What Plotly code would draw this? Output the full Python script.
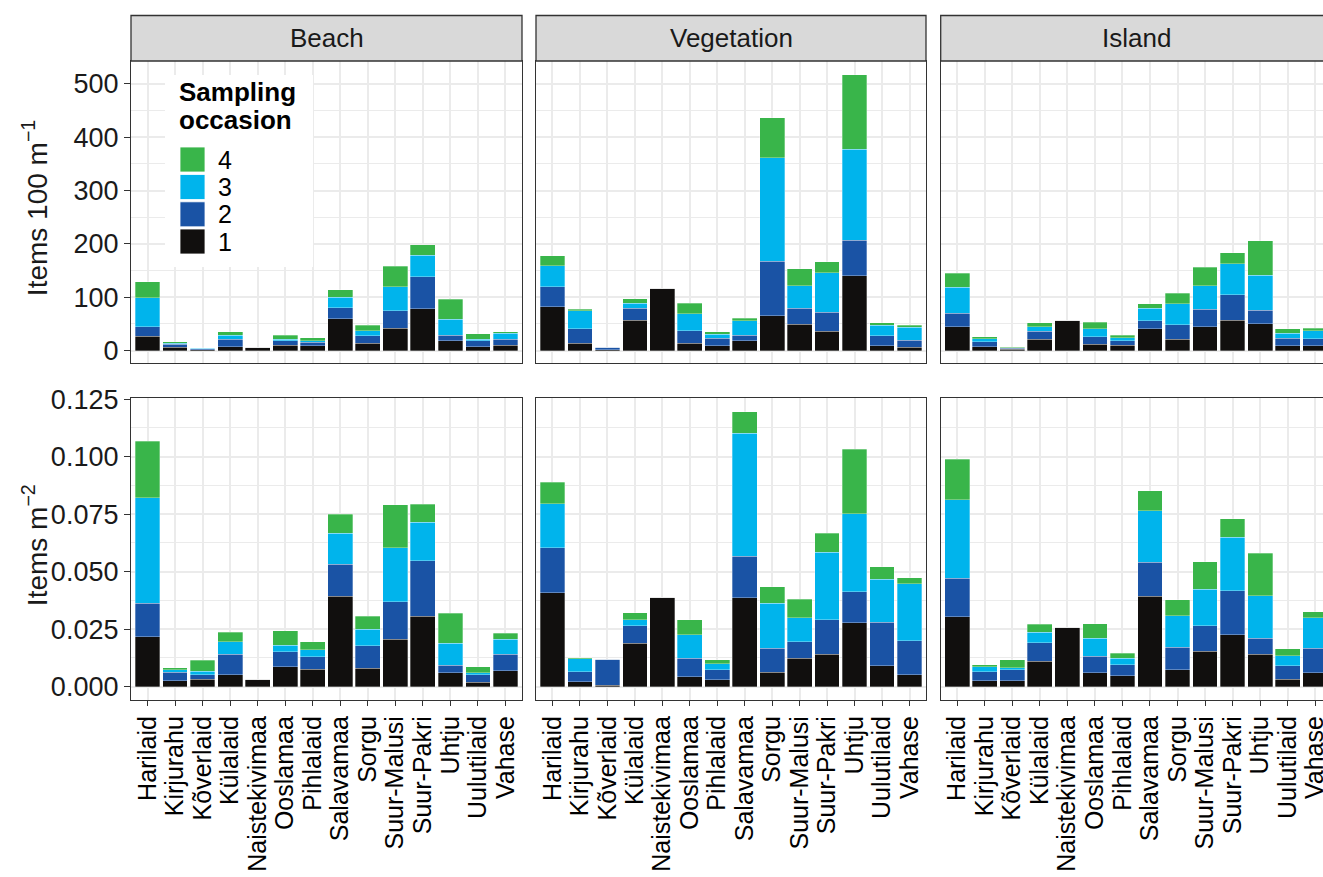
import plotly.graph_objects as go
from plotly.subplots import make_subplots

W, H = 1323, 877

categories = ["Harilaid", "Kirjurahu", "Kõverlaid", "Külalaid", "Naistekivimaa", "Ooslamaa",
              "Pihlalaid", "Salavamaa", "Sorgu", "Suur-Malusi", "Suur-Pakri", "Uhtju",
              "Uulutilaid", "Vahase"]
habitats = ["Beach", "Vegetation", "Island"]
occasions = ["1", "2", "3", "4"]
occasion_colors = ["#110F0E", "#1A53A5", "#00B4EC", "#39B54A"]

# Items 100 m^-1
beach_100m_occ1 = [27, 6, 1.5, 7, 6, 10, 9, 60, 13.5, 41.5, 78, 18.5, 7, 10]
beach_100m_occ2 = [17.5, 6, 2, 14.5, 0, 8, 6.5, 20, 14, 33, 60.5, 10, 11, 11.5]
beach_100m_occ3 = [54, 2, 1, 7.5, 0, 3, 2.5, 20, 10, 45, 40.5, 30, 3, 10.5]
beach_100m_occ4 = [30, 2.5, 1, 6.5, 0, 8, 6, 13.5, 9.5, 39, 19, 38, 10, 3]

veg_100m_occ1 = [82, 13.5, 1, 57, 116.5, 13.5, 9, 18.5, 65, 49, 36, 140, 9, 6]
veg_100m_occ2 = [38, 27, 5.5, 22, 0, 24, 14, 10, 102, 30, 35.5, 67, 19, 13.5]
veg_100m_occ3 = [39, 34.5, 0, 9.5, 0, 31, 7.5, 27, 195, 42, 74.5, 170.5, 19, 24.5]
veg_100m_occ4 = [19, 2.5, 0, 8.5, 0, 20, 5, 5, 75, 32, 20.5, 139.5, 5.5, 3]

island_100m_occ1 = [44.5, 7, 2, 21.5, 57, 12, 9.5, 41, 21, 45, 57, 50, 9, 9]
island_100m_occ2 = [25, 9.5, 2, 15, 0, 14, 9, 15, 27, 32, 47.5, 25.5, 14, 13]
island_100m_occ3 = [49, 5.5, 1.5, 8, 0, 14.5, 5.5, 23, 40, 44.5, 58, 65.5, 9, 15]
island_100m_occ4 = [26.5, 4, 0.5, 7.5, 0, 12.5, 4.5, 9, 19, 35, 21, 64.5, 9, 4.5]

# Items m^-2
beach_m2_occ1 = [.0217, .0025, .0032, .0051, .0033, .0087, .0076, .0394, .008, .0207, .0307, .006, .002, .007]
beach_m2_occ2 = [.0146, .0038, .0019, .009, 0, .0064, .0054, .0139, .0097, .0163, .0241, .0033, .0031, .0072]
beach_m2_occ3 = [.0459, .001, .0017, .0055, 0, .003, .003, .0134, .0073, .0234, .0168, .0096, .001, .0064]
beach_m2_occ4 = [.0246, .001, .0047, .004, 0, .0062, .0036, .0083, .0057, .0186, .0077, .013, .0026, .0026]

veg_m2_occ1 = [.0409, .0022, .0007, .0189, .0389, .0043, .0029, .0386, .0063, .0123, .0142, .0278, .0091, .0051]
veg_m2_occ2 = [.0194, .0043, .0112, .0075, 0, .008, .0044, .0182, .0104, .0073, .0148, .0135, .0189, .0149]
veg_m2_occ3 = [.0193, .0057, 0, .0026, 0, .0102, .0026, .0534, .0196, .0104, .0294, .0338, .0188, .0247]
veg_m2_occ4 = [.0093, .0004, 0, .0032, 0, .0065, .0017, .0094, .0072, .008, .0083, .0281, .0054, .0027]

island_m2_occ1 = [.0304, .0025, .0025, .011, .0258, .0061, .0047, .0394, .0073, .0155, .0225, .0141, .0033, .0061]
island_m2_occ2 = [.0167, .004, .0048, .0081, 0, .0071, .0049, .0148, .0098, .011, .0191, .0069, .0058, .0106]
island_m2_occ3 = [.0341, .0022, .001, .0045, 0, .0078, .0027, .0223, .0138, .0158, .0234, .0186, .0044, .0132]
island_m2_occ4 = [.0177, .0009, .0033, .0035, 0, .0063, .0022, .0086, .0068, .012, .008, .0184, .0029, .0027]

top_ticks = [0, 100, 200, 300, 400, 500]
bottom_ticks = [0.0, 0.025, 0.05, 0.075, 0.1, 0.125]
legend_title_lines = ["Sampling", "occasion"]
y_titles = ["Items 100 m<sup>−1</sup>", "Items m<sup>−2</sup>"]

panel_data = [
    [[beach_100m_occ1, beach_100m_occ2, beach_100m_occ3, beach_100m_occ4],
     [veg_100m_occ1, veg_100m_occ2, veg_100m_occ3, veg_100m_occ4],
     [island_100m_occ1, island_100m_occ2, island_100m_occ3, island_100m_occ4]],
    [[beach_m2_occ1, beach_m2_occ2, beach_m2_occ3, beach_m2_occ4],
     [veg_m2_occ1, veg_m2_occ2, veg_m2_occ3, veg_m2_occ4],
     [island_m2_occ1, island_m2_occ2, island_m2_occ3, island_m2_occ4]],
]

FONT = "Liberation Sans, Arial, sans-serif"
NARROW = "Liberation Sans Narrow, Arial Narrow, Liberation Sans, sans-serif"
GRID = "#EBEBEB"
BORDER = "#333333"

# panel geometry in pixels
col_px = [(131, 522), (536, 926), (940.7, 1331.7)]
row_px = [(61, 363.3), (398.3, 700)]
strip_px = (15.5, 61)
unit_px = (522 - 131) / 14.2

fig = make_subplots(rows=2, cols=3, horizontal_spacing=0.01, vertical_spacing=0.02)

for r in range(2):
    for c in range(3):
        for k in range(4):
            fig.add_trace(go.Bar(
                x=categories, y=panel_data[r][c][k], name=occasions[k],
                marker=dict(color=occasion_colors[k], line=dict(color="rgba(255,255,255,0.6)", width=0.5)),
                width=0.9, showlegend=False), row=r + 1, col=c + 1)

for r in range(2):
    for c in range(3):
        idx = r * 3 + c + 1
        xa = "xaxis" if idx == 1 else f"xaxis{idx}"
        ya = "yaxis" if idx == 1 else f"yaxis{idx}"
        x0, x1 = col_px[c]
        xr_hi = 13.6
        if x1 > W:
            xr_hi = -0.6 + (W - x0) / unit_px
            x1 = W
        y0p, y1p = row_px[r]
        fig.layout[xa].update(
            domain=[x0 / W, x1 / W], type="category", range=[-0.6, xr_hi],
            tickmode="linear", tick0=0, dtick=1,
            showgrid=True, gridcolor=GRID, gridwidth=1.5,
            showline=True, mirror=True, linecolor=BORDER, linewidth=1.3,
            ticks="outside" if r == 1 else "", ticklen=5, tickcolor=BORDER, tickwidth=1.3,
            showticklabels=(r == 1), tickangle=-90, automargin=False,
            tickfont=dict(family=FONT, size=25, color="black"), fixedrange=True)
        if r == 0:
            yrange = [-24, 543]
            ticks = top_ticks
            minor = 50
            fmt = "d"
        else:
            yrange = [-0.0058, 0.1254]
            ticks = bottom_ticks
            minor = 0.0125
            fmt = ".3f"
        fig.layout[ya].update(
            domain=[1 - y1p / H, 1 - y0p / H], range=yrange,
            tickvals=ticks, tickformat=fmt,
            showgrid=True, gridcolor=GRID, gridwidth=1.5,
            minor=dict(dtick=minor, showgrid=True, gridcolor=GRID, gridwidth=1.0, ticks=""),
            zeroline=False, automargin=False,
            showline=True, mirror=(c < 2), linecolor=BORDER, linewidth=1.3,
            ticks="outside" if c == 0 else "", ticklen=6, tickcolor=BORDER, tickwidth=1.3,
            showticklabels=(c == 0),
            tickfont=dict(family=FONT, size=27, color="#1a1a1a"), fixedrange=True)

shapes = []
annotations = []
# facet strips
for c, name in enumerate(habitats):
    x0, x1 = col_px[c]
    shapes.append(dict(type="rect", xref="paper", yref="paper",
                       x0=x0 / W, x1=x1 / W, y0=1 - strip_px[1] / H, y1=1 - strip_px[0] / H,
                       fillcolor="#D9D9D9", line=dict(color=BORDER, width=1.3), layer="above"))
    annotations.append(dict(text=name, xref="paper", yref="paper",
                            x=(x0 + x1) / 2 / W, y=1 - (strip_px[0] + strip_px[1]) / 2 / H,
                            showarrow=False, xanchor="center", yanchor="middle",
                            font=dict(family=FONT, size=26, color="#1a1a1a")))

# y-axis titles
for r in range(2):
    y0p, y1p = row_px[r]
    annotations.append(dict(text=y_titles[r], xref="paper", yref="paper",
                            x=35 / W, y=1 - (y0p + y1p - 8) / 2 / H, textangle=-90,
                            showarrow=False, xanchor="center", yanchor="middle",
                            font=dict(family=NARROW, size=28, color="#1a1a1a")))

# legend (inside Beach top panel)
shapes.append(dict(type="rect", xref="paper", yref="paper",
                   x0=165 / W, x1=313 / W, y0=1 - 267 / H, y1=1 - 75 / H,
                   fillcolor="white", line=dict(width=0), layer="above"))
for line_text, cy in zip(legend_title_lines, [92, 120]):
    annotations.append(dict(text="<b>" + line_text + "</b>", xref="paper", yref="paper",
                            x=177 / W, y=1 - cy / H, xanchor="left", yanchor="middle", align="left",
                            showarrow=False, font=dict(family=FONT, size=26, color="black")))
key_centers = [159.5, 187, 214.3, 241.5]
for i, k in enumerate([3, 2, 1, 0]):
    cy = key_centers[i]
    shapes.append(dict(type="rect", xref="paper", yref="paper",
                       x0=180 / W, x1=205 / W, y0=1 - (cy + 12.5) / H, y1=1 - (cy - 12.5) / H,
                       fillcolor=occasion_colors[k], line=dict(color="rgba(255,255,255,0.8)", width=1),
                       layer="above"))
    annotations.append(dict(text=occasions[k], xref="paper", yref="paper",
                            x=216 / W, y=1 - cy / H, xanchor="left", yanchor="middle",
                            showarrow=False, font=dict(family=FONT, size=25, color="black")))

fig.update_layout(
    width=W, height=H, barmode="stack", bargap=0.1,
    margin=dict(l=0, r=0, t=0, b=0, autoexpand=False),
    paper_bgcolor="white", plot_bgcolor="white",
    shapes=shapes, annotations=annotations, showlegend=False,
    font=dict(family=FONT))

fig.write_html("out.html", config={"displayModeBar": False},
               post_script="document.body.style.margin='0px';document.body.style.overflow='hidden';")
